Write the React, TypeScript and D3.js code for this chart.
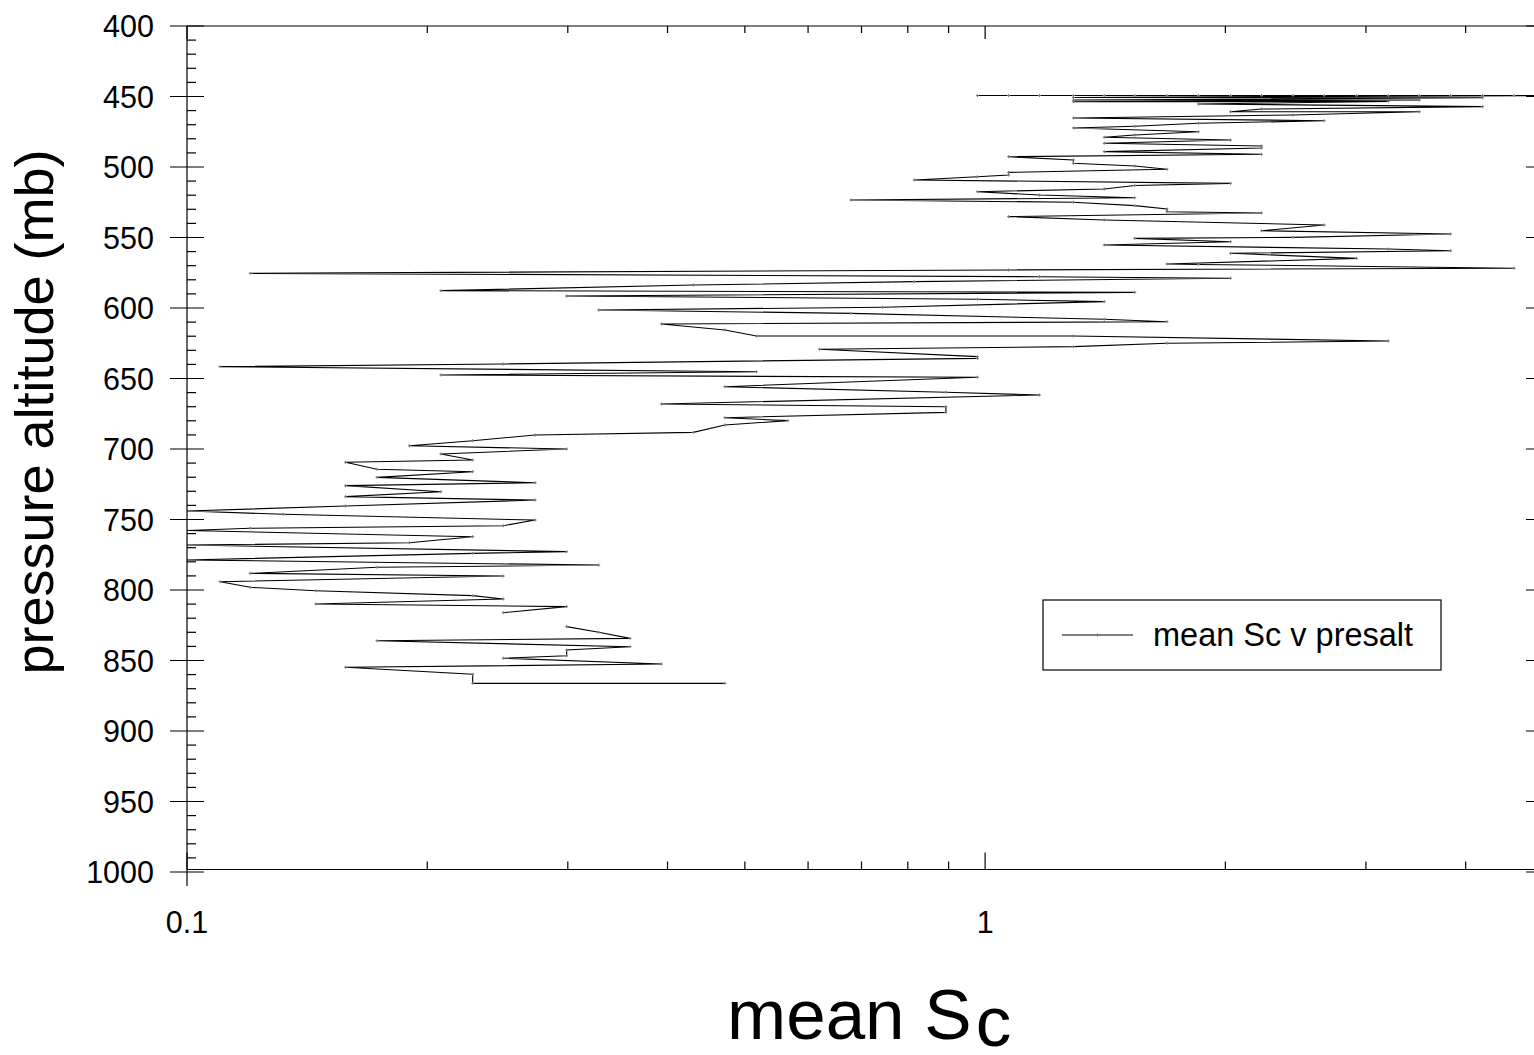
import React from "react";
import * as d3 from "d3";

// mean Sc values (x) and pressure altitude in mb (y), in the order the trace is drawn.
// null marks the gap in the record.
const meanSc: (number | null)[] = [
  0.978, 1.07, 1.17, 1.29, 1.41, 1.54, 1.69, 1.85, 2.03, 2.22, 2.43, 2.66, 2.92, 3.2, 3.5, 3.83, 4.2, 4.6, 5.04,
  1.29, 4.2, 1.29, 3.5, 1.29, 3.2, 1.85, 4.2, 2.22, 2.03, 3.5, 2.43, 1.29, 2.66, 1.85, 1.54, 1.29, 1.85, 1.54,
  1.41, 2.03, 1.41, 2.22, 2.22, 1.41, 2.22, 1.07, 1.29, 1.29, 1.54, 1.69, 1.07, 1.07, 0.978, 0.815, 2.03, 1.54,
  1.41, 0.978, 1.17, 1.54, 0.679, 1.29, 1.54, 1.69, 1.69, 2.22, 1.07, 1.41, 2.66, 2.22, 3.83, 2.43, 1.54, 2.03,
  1.41, 3.2, 3.83, 2.03, 2.92, 1.69, 1.85, 4.6, 1.07, 0.12, 1.17, 2.03, 0.815, 0.431, 0.208, 1.54, 0.299, 0.978,
  1.41, 0.744, 0.328, 0.679, 1.41, 1.69, 0.393, 0.472, 0.517, 1.29, 3.2, 1.69, 1.29, 0.62, 0.978, 0.978, 0.249,
  0.11, 0.517, 0.208, 0.978, 0.472, 0.893, 1.17, 0.393, 0.893, 0.893, 0.472, 0.566, 0.472, 0.431, 0.273, 0.228,
  0.19, 0.299, 0.208, 0.228, 0.158, 0.173, 0.228, 0.173, 0.273, 0.158, 0.208, 0.158, 0.273, 0.158, 0.1, 0.132,
  0.273, 0.249, 0.12, 0.1, 0.228, 0.19, 0.1, 0.299, 0.228, 0.1, 0.328, 0.173, 0.12, 0.249, 0.11, 0.12, 0.145,
  0.228, 0.249, 0.145, 0.299, 0.249, null, 0.299, 0.328, 0.359, 0.173, 0.359, 0.299, 0.299, 0.249, 0.393, 0.158,
  0.228, 0.228, 0.472,
];

const presAlt: (number | null)[] = [
  449.3, 449.3, 449.3, 449.3, 449.3, 449.3, 449.3, 449.3, 449.3, 449.3, 449.3, 449.3, 449.3, 449.3, 449.3, 449.3, 449.3, 449.3, 449.3,
  450.7, 450.9, 452.5, 452.5, 453.7, 453.5, 455.3, 457.2, 458.9, 460.8, 460.8, 463.1, 465.2, 467.2, 469.0, 471.1, 472.3, 475.0, 477.3,
  478.9, 480.9, 483.2, 485.1, 486.5, 489.1, 491.0, 492.7, 495.0, 497.4, 499.3, 501.6, 503.8, 505.7, 506.9, 509.2, 511.6, 513.1,
  515.6, 517.5, 519.9, 521.8, 523.4, 525.0, 527.4, 529.8, 531.7, 532.6, 535.2, 537.6, 541.1, 545.2, 547.5, 549.9, 550.6, 553.0,
  555.3, 558.2, 559.4, 561.2, 564.8, 568.8, 569.1, 571.8, 573.0, 575.4, 577.8, 578.9, 581.3, 583.7, 587.7, 588.9, 591.5, 593.8,
  595.5, 599.5, 601.4, 603.8, 608.0, 609.7, 611.3, 615.6, 619.9, 619.9, 623.4, 625.0, 627.4, 629.3, 634.5, 635.7, 639.7,
  641.6, 645.2, 647.5, 649.1, 655.8, 659.8, 661.7, 668.1, 670.0, 674.0, 677.8, 679.9, 683.0, 688.2, 690.1, 694.1,
  697.7, 700.0, 703.5, 707.8, 709.4, 714.4, 716.1, 720.1, 723.9, 726.0, 730.3, 733.8, 736.2, 740.4, 744.0, 746.3,
  750.4, 754.4, 756.2, 757.8, 762.2, 766.5, 768.1, 772.8, 774.0, 778.7, 782.3, 783.9, 788.2, 790.1, 794.1, 798.1, 800.5,
  804.0, 806.4, 809.9, 811.8, 816.1, null, 826.0, 830.0, 834.3, 836.0, 840.2, 842.6, 846.6, 848.4, 852.5, 854.8,
  859.8, 866.2, 866.2,
];

const yMajorTicks = [400, 450, 500, 550, 600, 650, 700, 750, 800, 850, 900, 950, 1000];
const xMajorTicks = [0.1, 1];
const xTickLabels = ["0.1", "1"];
const xMinorTicks = [0.2, 0.3, 0.4, 0.5, 0.6, 0.7, 0.8, 0.9, 2, 3, 4];
const legendLabel = "mean Sc v presalt";

const FONT = "'Liberation Sans', Arial, Helvetica, sans-serif";

export default function App() {
  const W = 1534;
  const H = 1055;
  const left = 187;
  const right = 1543;
  const top = 26;
  const bottomAxisY = 869.5;

  const x = d3.scaleLog().domain([0.1, 5]).range([left, right]);
  const y = d3.scaleLinear().domain([400, 1000]).range([top, 872]);

  type Pt = { v: number | null; p: number | null };
  const pts: Pt[] = meanSc.map((v, i) => ({ v, p: presAlt[i] }));

  const line = d3
    .line<Pt>()
    .defined((d) => d.v != null && d.p != null)
    .x((d) => x(d.v as number))
    .y((d) => y(d.p as number));

  const yMinor: number[] = d3.range(400, 1001, 10).filter((v) => v % 50 !== 0);

  const majorLen = 17;
  const minorLen = 9;

  return (
    <>
      <style>{`body{margin:0;} svg{display:block;}`}</style>
      <svg width={W} height={H} viewBox={`0 0 ${W} ${H}`} style={{ background: "#fff" }}>
        <defs>
          <clipPath id="plotClip">
            <rect x={left} y={top} width={right - left} height={bottomAxisY - top} />
          </clipPath>
        </defs>

        {/* data trace */}
        <g clipPath="url(#plotClip)">
          <path d={line(pts) || ""} fill="none" stroke="#000" strokeWidth={1.1} />
          {pts
            .filter((d) => d.v != null && d.p != null)
            .map((d, i) => {
              const cx = x(d.v as number);
              const cy = y(d.p as number);
              return (
                <path
                  key={i}
                  d={`M${cx - 1.5},${cy}H${cx + 1.5}M${cx},${cy - 1.5}V${cy + 1.5}`}
                  stroke="#777"
                  strokeWidth={1}
                />
              );
            })}
        </g>

        {/* frame */}
        <g stroke="#000" strokeWidth={1.2} fill="none">
          <line x1={left} y1={top} x2={left} y2={886} />
          <line x1={right} y1={top} x2={right} y2={bottomAxisY} />
          <line x1={left} y1={top} x2={right} y2={top} />
          <line x1={left} y1={bottomAxisY} x2={right} y2={bottomAxisY} />

          {yMajorTicks.map((t) => (
            <g key={"ym" + t}>
              <line x1={left - majorLen} x2={left + majorLen} y1={y(t)} y2={y(t)} />
              <line x1={right - majorLen} x2={right + majorLen} y1={y(t)} y2={y(t)} />
            </g>
          ))}
          {yMinor.map((t) => (
            <g key={"yn" + t}>
              <line x1={left} x2={left + minorLen} y1={y(t)} y2={y(t)} />
              <line x1={right - minorLen} x2={right} y1={y(t)} y2={y(t)} />
            </g>
          ))}
          {xMajorTicks.map((t) => (
            <g key={"xm" + t}>
              <line x1={x(t)} x2={x(t)} y1={bottomAxisY - majorLen} y2={bottomAxisY} />
              <line x1={x(t)} x2={x(t)} y1={top} y2={top + 13} />
            </g>
          ))}
          {xMinorTicks.map((t) => (
            <g key={"xn" + t}>
              <line x1={x(t)} x2={x(t)} y1={bottomAxisY - 8} y2={bottomAxisY} />
              <line x1={x(t)} x2={x(t)} y1={top} y2={top + 7} />
            </g>
          ))}
        </g>

        {/* tick labels */}
        <g fontFamily={FONT} fontSize={30.5} fill="#000">
          {yMajorTicks.map((t) => (
            <text key={"yl" + t} x={154} y={y(t) + 11} textAnchor="end">
              {t}
            </text>
          ))}
          {xMajorTicks.map((t, i) => (
            <text key={"xl" + t} x={x(t)} y={933} textAnchor="middle">
              {xTickLabels[i]}
            </text>
          ))}
        </g>

        {/* axis titles */}
        <text
          fontFamily={FONT}
          fontSize={54}
          textAnchor="middle"
          transform={`translate(53,412) rotate(-90)`}
        >
          pressure altitude (mb)
        </text>
        <text fontFamily={FONT} fontSize={71} x={727} y={1039}>
          mean S
          <tspan dx={4} dy={7}>c</tspan>
        </text>

        {/* legend */}
        <g>
          <rect x={1043} y={600} width={398} height={70} fill="#fff" stroke="#000" strokeWidth={1.2} />
          <line x1={1062} x2={1133} y1={635} y2={635} stroke="#000" strokeWidth={1} />
          <path d={`M1096,635H1099M1097.5,633.5V636.5`} stroke="#777" strokeWidth={1} />
          <text x={1153} y={646} fontFamily={FONT} fontSize={32.5} fill="#000">
            {legendLabel}
          </text>
        </g>
      </svg>
    </>
  );
}
